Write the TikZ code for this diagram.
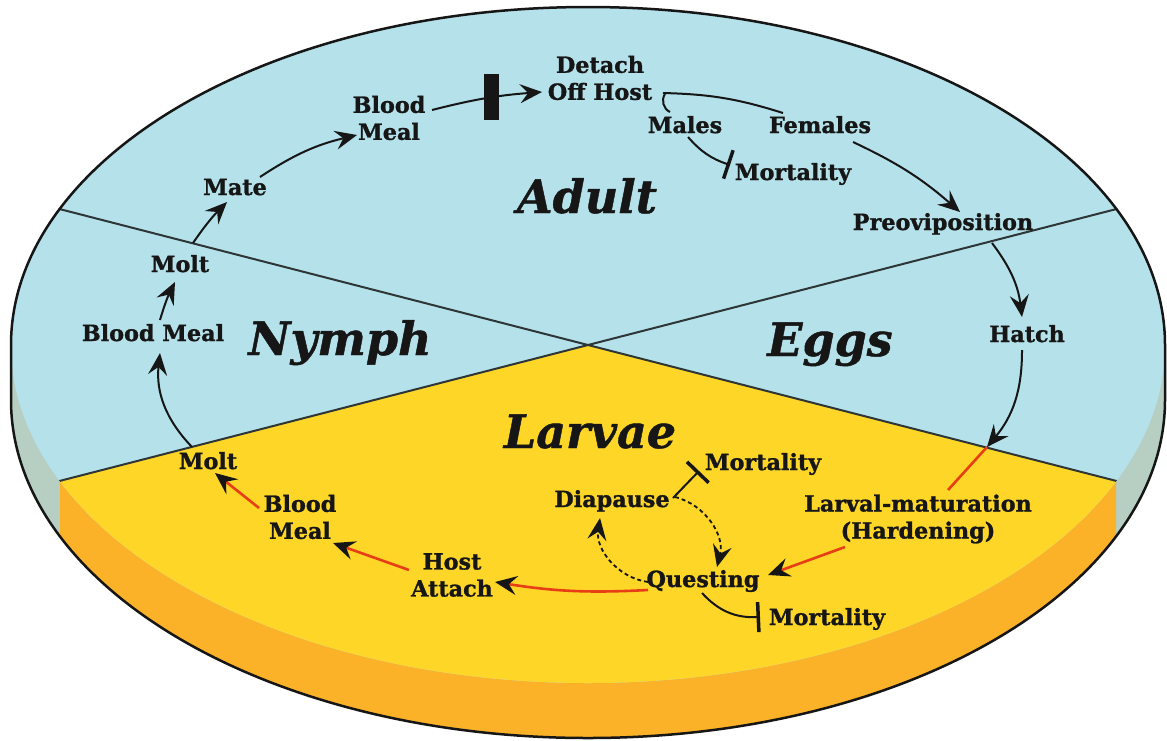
\documentclass[tikz,border=0pt]{standalone}
\usepackage{fontspec}
\setmainfont{DejaVu Serif}[BoldFeatures={FakeBold=1.2},BoldItalicFeatures={FakeBold=1}]
\usetikzlibrary{arrows.meta,calc}
\definecolor{topblue}{RGB}{181,226,234}
\definecolor{topyellow}{RGB}{253,214,40}
\definecolor{sideorange}{RGB}{251,178,40}
\definecolor{sidegray}{RGB}{183,207,194}
\definecolor{redline}{RGB}{232,62,22}
\definecolor{ink}{RGB}{22,22,22}
\tikzset{
 lbl/.style={font=\bfseries\fontsize{22.3}{27}\selectfont, text=ink, align=center, inner sep=1pt},
 lblb/.style={lbl, anchor=base},
 sect/.style={font=\bfseries\itshape\fontsize{46}{50}\selectfont, text=ink, inner sep=0pt, anchor=base},
 blk/.style={draw=ink, line width=2pt},
 redc/.style={draw=redline, line width=2.6pt},
 dsh/.style={draw=ink, line width=1.8pt, dash pattern=on 4pt off 3pt},
 arrowtip/.style={-{Stealth[length=22pt,width=19pt,inset=8pt,color=ink]}},
 blocker/.style={-{Bar[width=30pt,line width=3.5pt,color=ink]}},
 gatebar/.style={fill=ink, minimum width=15pt, minimum height=46pt, inner sep=0pt},
 disk/.style={x radius=577pt, y radius=338pt},
}
\begin{document}
\begin{tikzpicture}[x=1pt,y=1pt]
\useasboundingbox (0,0) rectangle (1167,-740);
% side of the disk
\fill[sidegray] (11,-345) arc[start angle=180,end angle=0,disk] -- (1165,-400)
  arc[start angle=0,end angle=-180,disk] -- cycle;
\begin{scope}
  \clip (60,-300) rectangle (1116,-745);
  \fill[sideorange] (588,-400) ellipse[disk];
\end{scope}
% top face
\fill[topblue] (588,-345) ellipse[disk];
\begin{scope}
  \clip (588,-345) ellipse[disk];
  \fill[topyellow] (588,-345) -- (-468,-617) -- (-468,-900) -- (1644,-900) -- (1644,-617) -- cycle;
  \draw[line width=2pt, draw=ink!85!topblue] (40,-204) -- (1136,-486) (1136,-204) -- (40,-486);
\end{scope}
\draw[line width=2.5pt, draw=ink] (11,-345) arc[start angle=180,end angle=0,disk] -- (1165,-400)
  arc[start angle=0,end angle=-180,disk] -- cycle;

% section labels
\node[sect] (adult) at (587,-213) {Adult};
\node[sect] (nymph) at (340,-355) {Nymph};
\node[sect] (eggs) at (830,-356) {Eggs};
\node[sect] (larvae) at (590,-448) {Larvae};

% labels
\node[lbl] (det) at (600,-78) {Detach\\Off Host};
\node[lbl] (bmA) at (389,-118) {Blood\\Meal};
\node[lblb] (mate) at (235,-195) {Mate};
\node[lblb] (moltA) at (180,-272) {Molt};
\node[lblb] (bmN) at (153,-341) {Blood Meal};
\node[lblb] (moltL) at (208,-469) {Molt};
\node[lbl] (bmL) at (300,-517) {Blood\\Meal};
\node[lbl] (host) at (452,-575) {Host\\Attach};
\node[lblb] (quest) at (703,-587) {Questing};
\node[lblb] (diap) at (612,-507) {Diapause};
\node[lblb] (mortD) at (763,-470) {Mortality};
\node[lblb] (mortQ) at (827,-625) {Mortality};
\node[lbl] (larv) at (918,-519) {Larval-maturation\\(Hardening)};
\node[lblb] (hatch) at (1027,-342) {Hatch};
\node[lblb] (prev) at (943,-230) {Preoviposition};
\node[lblb] (fem) at (820,-133) {Females};
\node[lblb] (males) at (685,-133) {Males};
\node[lblb] (mortM) at (793,-180) {Mortality};
\coordinate (hx) at (987,-447);

% adult / nymph cycle (black)
\draw[blk,arrowtip] ($(moltL.base)+(-16,22)$) to[bend left=25] ($(bmN.base)+(7,-12)$);
\draw[blk,arrowtip] ($(bmN.base)+(7,21)$) to[bend left=5] ($(moltA.base)+(-5,-10)$);
\draw[blk,arrowtip] ($(moltA.base)+(13,29)$) to[bend left=5] ($(mate.base)+(-8,-7)$);
\draw[blk,arrowtip] ($(mate.base)+(25,18)$) to[bend left=10] ($(bmA)+(-32,-17)$);
\draw[blk,arrowtip] ($(bmA)+(43,8)$) to[bend left=5] node[pos=0.55,gatebar] (gate) {} ($(det)+(-58,-14)$);
\draw[blk] ($(det)+(63,-15)$) to[bend left=8] ($(fem.base)+(-37,20)$);
\draw[blk] ($(det)+(65,-16)$) to[bend right=50] ($(males.base)+(-15,21)$);
\draw[blk,blocker] ($(males.base)+(3,-4)$) to[bend right=15] ($(mortM.base)+(-63,15)$);
\draw[blk,arrowtip] ($(fem.base)+(33,-9)$) to[bend left=8] ($(prev.base)+(17,18)$);
\draw[blk,arrowtip] ($(prev.base)+(49,-13)$) to[bend left=15] ($(hatch.base)+(-5,25)$);
% eggs -> larvae
\draw[redc] (hx) -- ($(larv)+(30,29)$);
\draw[blk,arrowtip] ($(hatch.base)+(-5,-8)$) to[bend left=20] (hx);
% larvae cycle (red)
\draw[redc,arrowtip] ($(larv)+(-73,-28)$) -- ($(quest.base)+(65,12)$);
\draw[redc,arrowtip] ($(quest.base)+(-55,-3)$) to[bend left=6] ($(host)+(43,-7)$);
\draw[redc,arrowtip] ($(host)+(-43,5)$) -- ($(bmL)+(33,-26)$);
\draw[redc,arrowtip] ($(bmL)+(-41,9)$) -- ($(moltL.base)+(7,-4)$);
% diapause loop and mortality
\draw[blk,blocker] ($(diap.base)+(61,9)$) -- ($(mortD.base)+(-64,-1)$);
\draw[dsh,arrowtip] ($(diap.base)+(63,10)$) to[bend left=45] ($(quest.base)+(14,20)$);
\draw[dsh,arrowtip] ($(quest.base)+(-55,5)$) to[bend left=45] ($(diap.base)+(-12,-11)$);
\draw[blk,blocker] ($(quest.base)+(-1,-6)$) to[bend right=25] ($(mortQ.base)+(-67,8)$);
\end{tikzpicture}
\end{document}
